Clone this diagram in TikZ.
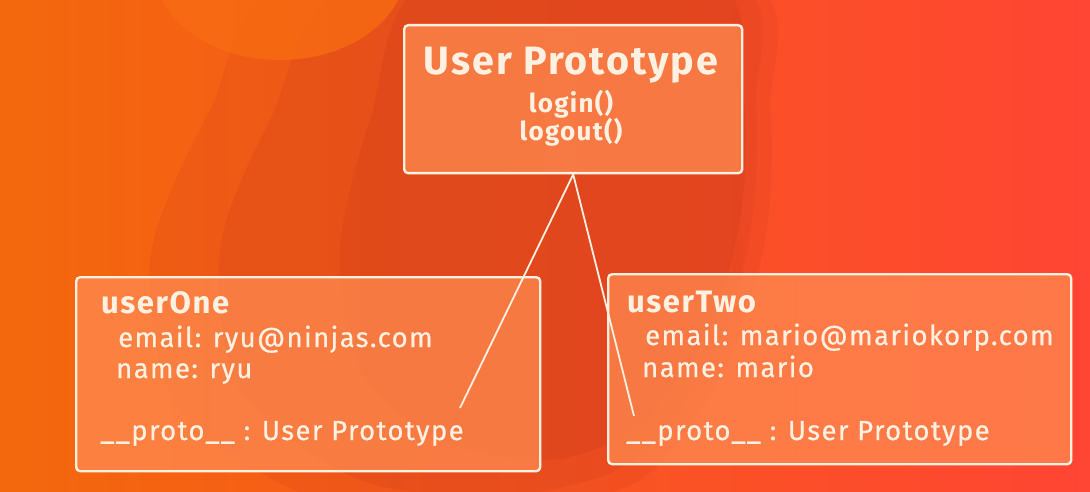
\documentclass[tikz,border=0pt]{standalone}
\usepackage{fontspec}
\setmainfont{Fira Sans}[LetterSpace=5]
\usepackage{xcolor}
\usetikzlibrary{positioning,calc}
\definecolor{Flame}{HTML}{F3680C}
\definecolor{Tangerine}{HTML}{FA5A1A}
\definecolor{Ember}{HTML}{FF4533}
\definecolor{Rust}{HTML}{C8381C}
\definecolor{Glow}{HTML}{F86B12}
\definecolor{Peach}{HTML}{FF8A50}
\definecolor{Cream}{HTML}{FFF1E2}
\tikzset{objbox/.style={rectangle,rounded corners=4pt,draw=Cream,line width=2.4pt,fill=Peach,fill opacity=0.75,text opacity=1,anchor=north west,inner sep=0pt},headtext/.style={anchor=base west,inner sep=0pt,text=Cream,font=\bfseries\fontsize{31}{36}\selectfont},fieldtext/.style={anchor=base west,inner sep=0pt,text=Cream,font=\fontsize{27.5}{32}\selectfont\addfontfeature{FakeBold=0.6}},methodtext/.style={anchor=base,inner sep=0pt,text=Cream,font=\bfseries\fontsize{26}{30}\selectfont},link/.style={draw=Cream,line width=1.8pt}}
\begin{document}
\begin{tikzpicture}[x=1pt,y=-1pt]
\useasboundingbox (0,0) rectangle (1090,492);
\shade[left color=Flame,middle color=Tangerine,right color=Ember] (0,0) rectangle (1090,492);
\fill[Rust,opacity=0.15] plot[smooth cycle] coordinates {(300,-20) (740,-20) (770,110) (765,240) (725,370) (640,480) (500,510) (320,500) (180,410) (150,260) (210,110)};
\fill[Rust,opacity=0.18] plot[smooth cycle] coordinates {(360,-20) (730,-20) (756,105) (750,235) (716,350) (635,460) (510,495) (360,480) (240,390) (220,250) (270,120)};
\fill[Rust,opacity=0.22] plot[smooth cycle] coordinates {(430,-20) (712,-20) (744,100) (740,220) (708,330) (640,425) (550,460) (440,440) (360,370) (340,250) (370,120)};
\fill[Glow,opacity=0.8] (280,-30) ellipse [x radius=125, y radius=90];
\node[objbox,minimum width=338,minimum height=148] (proto) at (403,24) {};\node[objbox,minimum width=464,minimum height=194] (one) at (75,276) {};\node[objbox,minimum width=463,minimum height=190] (two) at (607,273) {};
\node[anchor=base,inner sep=0pt,text=Cream,font=\bfseries\fontsize{39.5}{45}\selectfont] (protoTitle) at (571,75) {User Prototype};\node[methodtext] (login) at (571,113) {login()};\node[methodtext] (logout) at (571,141) {logout()};
\node[headtext] (oneTitle) at (101,313) {userOne};\node[fieldtext] (oneMail) at (118,347) {email: ryu@ninjas.com};\node[fieldtext] (oneName) at (116,378) {name: ryu};\node[fieldtext] (oneProto) at (100,440) {\_\_proto\_\_ : User Prototype};
\node[headtext] (twoTitle) at (627,312) {userTwo};\node[fieldtext] (twoMail) at (645,345) {email: mario@mariokorp.com};\node[fieldtext] (twoName) at (642,377) {name: mario};\node[fieldtext] (twoProto) at (626,440) {\_\_proto\_\_ : User Prototype};
\coordinate (oneTip) at (460,408);\coordinate (twoTip) at (634,416);
\draw[link] (proto.south) -- (oneTip);\draw[link] (proto.south) -- (twoTip);
\end{tikzpicture}
\end{document}
